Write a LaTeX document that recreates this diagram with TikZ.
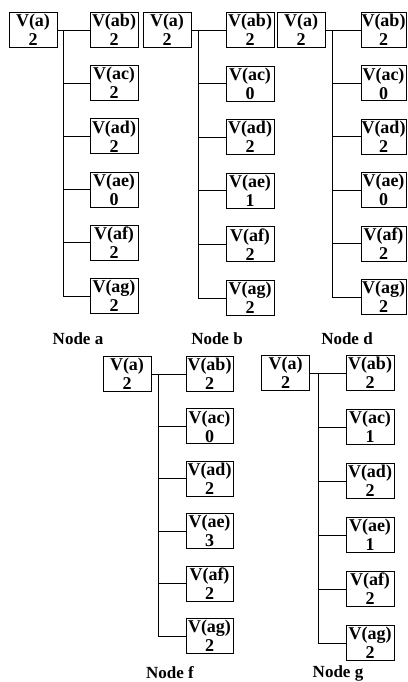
\documentclass[tikz,border=0pt]{standalone}
\usepackage{fontspec}
\setmainfont{Liberation Serif}
\newcommand{\vtree}[8]{%
  \node[vbox] (#1-a) at (#2,#3) {V(a)\\2};
  \foreach \n/\v [count=\i from 0] in {#7} {
    \node[vbox, minimum width=#8] (#1-\n) at (#5, #3+\i*#6) {V(\n)\\\v};
  }
  \coordinate (#1-top) at (#4,#3);
  \draw[link] (#1-a.east) -- (#1-ab.west);
  \foreach \n in {ac,ad,ae,af,ag} \draw[link] (#1-\n.west) -- (#1-\n.west -| #1-top);
  \draw[link] (#1-top) -- (#1-ag.west -| #1-top);
}
\begin{document}
\begin{tikzpicture}[x=1pt,y=-1pt,
  vbox/.style={draw, line width=0.9pt, minimum width=48pt, minimum height=35pt, inner sep=0pt, align=center, font=\bfseries\fontsize{18}{19}\selectfont},
  link/.style={line width=0.9pt},
  lab/.style={font=\bfseries\fontsize{17}{17}\selectfont, anchor=base}]
\useasboundingbox (0,0) rectangle (407,682);
\vtree{A}{33}{30}{63}{114}{53.2}{ab/2,ac/2,ad/2,ae/0,af/2,ag/2}{48pt}
\vtree{B}{167}{30}{198}{250}{53.6}{ab/2,ac/0,ad/2,ae/1,af/2,ag/2}{48pt}
\vtree{D}{301}{30}{332}{383.5}{53.4}{ab/2,ac/0,ad/2,ae/0,af/2,ag/2}{45pt}
\vtree{F}{127}{374}{158}{209.5}{52.4}{ab/2,ac/0,ad/2,ae/3,af/2,ag/2}{47pt}
\vtree{G}{285.5}{373}{318}{370}{54}{ab/2,ac/1,ad/2,ae/1,af/2,ag/2}{48pt}
\node[lab] (la) at (78,344) {Node a};
\node[lab] (lb) at (217,344) {Node b};
\node[lab] (ld) at (347,344) {Node d};
\node[lab] (lf) at (170,678) {Node f};
\node[lab] (lg) at (338,677) {Node g};
\end{tikzpicture}
\end{document}
